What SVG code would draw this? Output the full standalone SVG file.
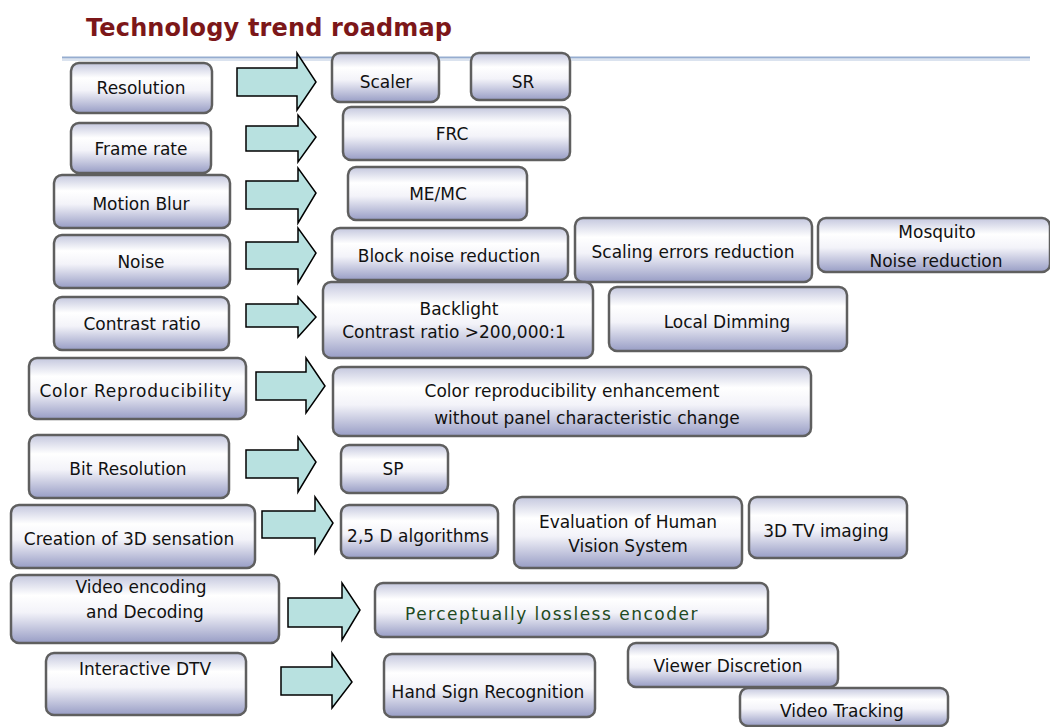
<svg xmlns="http://www.w3.org/2000/svg" width="1050" height="727" viewBox="0 0 1050 727">
<defs>
<linearGradient id="bg" x1="0" y1="0" x2="0" y2="1">
<stop offset="0" stop-color="#c4c7de"/>
<stop offset="0.3" stop-color="#ffffff"/>
<stop offset="0.55" stop-color="#f3f3f9"/>
<stop offset="1" stop-color="#989dc5"/>
</linearGradient>
<style>
.b{fill:url(#bg);stroke:#5f5f5f;stroke-width:2.5}
.t{font-family:"DejaVu Sans",Verdana,sans-serif;font-size:17px;fill:#111;text-anchor:middle}
.a{fill:#b8e1e0;stroke:#000;stroke-width:1.5;stroke-linejoin:miter}
.title{font-family:"DejaVu Sans",Verdana,sans-serif;font-weight:bold;font-size:24px;fill:#7c1719}
</style>
</defs>
<rect width="1050" height="727" fill="#fff"/>
<text class="title" x="86" y="36" textLength="366">Technology trend roadmap</text>
<line x1="62" y1="57.5" x2="1030" y2="57.5" stroke="#96add0" stroke-width="2"/>
<line x1="62" y1="60" x2="1030" y2="60" stroke="#cfdaea" stroke-width="1.5"/>

<g id="connectors">
<polygon class="a" points="237,68 297,68 297,53 316,82 297,110 297,96 237,96"/>
<polygon class="a" points="246,126 298,126 298,115 316,137 298,162 298,151 246,151"/>
<polygon class="a" points="246,181 298,181 298,168 316,193 298,223 298,209 246,209"/>
<polygon class="a" points="246,242 298,242 298,228 316,253 298,283 298,269 246,269"/>
<polygon class="a" points="246,304 298,304 298,297 316,317 298,337 298,327 246,327"/>
<polygon class="a" points="256,372 306,372 306,358 325,386 306,413 306,400 256,400"/>
<polygon class="a" points="246,450 298,450 298,437 316,462 298,492 298,478 246,478"/>
<polygon class="a" points="262,511 315,511 315,497 333,523 315,553 315,538 262,538"/>
<polygon class="a" points="288,598 342,598 342,583 360,610 342,640 342,627 288,627"/>
<polygon class="a" points="281,667 332,667 332,653 352,682 332,708 332,695 281,695"/>
</g>

<g id="resolution"><rect class="b" x="71" y="63" width="141" height="50" rx="8"/><text class="t" x="141" y="94">Resolution</text></g>
<g id="frame-rate"><rect class="b" x="71" y="123" width="140" height="50" rx="8"/><text class="t" x="141" y="155">Frame rate</text></g>
<g id="motion-blur"><rect class="b" x="54" y="175" width="176" height="53" rx="8"/><text class="t" x="141" y="210">Motion Blur</text></g>
<g id="noise"><rect class="b" x="54" y="235" width="176" height="53" rx="8"/><text class="t" x="141" y="268">Noise</text></g>
<g id="contrast-ratio"><rect class="b" x="54" y="297" width="175" height="53" rx="8"/><text class="t" x="142" y="330">Contrast ratio</text></g>
<g id="color-reproducibility"><rect class="b" x="29" y="358" width="217" height="61" rx="8"/><text class="t" x="136" y="397" font-size="20" letter-spacing="0.8">Color Reproducibility</text></g>
<g id="bit-resolution"><rect class="b" x="29" y="435" width="200" height="63" rx="8"/><text class="t" x="128" y="475">Bit Resolution</text></g>
<g id="creation-3d"><rect class="b" x="11" y="505" width="244" height="63" rx="8"/><text class="t" x="129" y="545" font-size="17.5">Creation of 3D sensation</text></g>
<g id="video-coding"><rect class="b" x="11" y="575" width="268" height="68" rx="8"/><text class="t" x="141" y="593">Video encoding</text><text class="t" x="145" y="618">and Decoding</text></g>
<g id="interactive-dtv"><rect class="b" x="46" y="653" width="200" height="62" rx="8"/><text class="t" x="145" y="675">Interactive DTV</text></g>

<g id="scaler"><rect class="b" x="332" y="53" width="107" height="49" rx="8"/><text class="t" x="386" y="88">Scaler</text></g>
<g id="sr"><rect class="b" x="471" y="53" width="99" height="47" rx="8"/><text class="t" x="523" y="88">SR</text></g>
<g id="frc"><rect class="b" x="343" y="107" width="227" height="53" rx="8"/><text class="t" x="452" y="140">FRC</text></g>
<g id="memc"><rect class="b" x="348" y="167" width="179" height="53" rx="8"/><text class="t" x="438" y="200">ME/MC</text></g>
<g id="block-noise"><rect class="b" x="332" y="228" width="236" height="52" rx="8"/><text class="t" x="449" y="262" font-size="17.5">Block noise reduction</text></g>
<g id="scaling-errors"><rect class="b" x="575" y="218" width="237" height="64" rx="8"/><text class="t" x="693" y="258" font-size="17.5">Scaling errors reduction</text></g>
<g id="mosquito"><rect class="b" x="818" y="218" width="232" height="54" rx="8"/><text class="t" x="937" y="238" font-size="19">Mosquito</text><text class="t" x="936" y="267" font-size="20">Noise reduction</text></g>
<g id="backlight"><rect class="b" x="323" y="282" width="270" height="76" rx="8"/><text class="t" x="459" y="315">Backlight</text><text class="t" x="454" y="338">Contrast ratio &gt;200,000:1</text></g>
<g id="local-dimming"><rect class="b" x="609" y="287" width="238" height="64" rx="8"/><text class="t" x="727" y="328" font-size="18">Local Dimming</text></g>
<g id="color-enhancement"><rect class="b" x="333" y="367" width="478" height="69" rx="8"/><text class="t" x="572" y="397" font-size="20">Color reproducibility enhancement</text><text class="t" x="587" y="424" font-size="20">without panel characteristic change</text></g>
<g id="sp"><rect class="b" x="341" y="445" width="107" height="48" rx="8"/><text class="t" x="393" y="475">SP</text></g>
<g id="algorithms-25d"><rect class="b" x="341" y="505" width="157" height="53" rx="8"/><text class="t" x="418" y="542" font-size="18">2,5 D algorithms</text></g>
<g id="evaluation-hvs"><rect class="b" x="514" y="497" width="228" height="71" rx="8"/><text class="t" x="628" y="528" font-size="18">Evaluation of Human</text><text class="t" x="628" y="552" font-size="18">Vision System</text></g>
<g id="tv-3d"><rect class="b" x="749" y="497" width="158" height="61" rx="8"/><text class="t" x="826" y="537" font-size="17">3D TV imaging</text></g>
<g id="perceptual-encoder"><rect class="b" x="375" y="583" width="393" height="54" rx="8"/><text class="t" x="552" y="620" font-size="19.5" letter-spacing="1.5" style="fill:#1e4a22">Perceptually lossless encoder</text></g>
<g id="hand-sign"><rect class="b" x="384" y="654" width="211" height="63" rx="8"/><text class="t" x="488" y="698" font-size="17.8">Hand Sign Recognition</text></g>
<g id="viewer-discretion"><rect class="b" x="628" y="643" width="210" height="44" rx="8"/><text class="t" x="728" y="672" font-size="18">Viewer Discretion</text></g>
<g id="video-tracking"><rect class="b" x="740" y="688" width="208" height="38" rx="8"/><text class="t" x="842" y="717" font-size="18">Video Tracking</text></g>
</svg>
